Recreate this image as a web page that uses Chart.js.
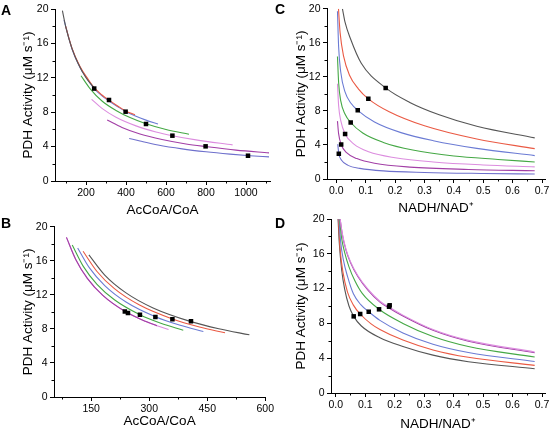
<!DOCTYPE html>
<html>
<head>
<meta charset="utf-8">
<script src="https://cdn.jsdelivr.net/npm/chart.js@4.4.1/dist/chart.umd.min.js"></script>
<style>
  html, body { margin: 0; padding: 0; background: #fff; }
  #fig { position: relative; width: 553px; height: 438px; overflow: hidden; font-family: "Liberation Sans", Arial, sans-serif; }
  #fig canvas { position: absolute; }
  .lbl { position: absolute; font-weight: bold; font-size: 14px; line-height: 14px; color: #000; }
</style>
</head>
<body>
<div id="fig">
  <canvas id="chartA" width="276" height="218" style="left:0;top:0"></canvas>
  <canvas id="chartC" width="277" height="218" style="left:276px;top:0"></canvas>
  <canvas id="chartB" width="276" height="220" style="left:0;top:218px"></canvas>
  <canvas id="chartD" width="277" height="230" style="left:276px;top:208px"></canvas>
  <div class="lbl" style="left:1px;top:3px">A</div>
  <div class="lbl" style="left:275px;top:2px">C</div>
  <div class="lbl" style="left:1px;top:216px">B</div>
  <div class="lbl" style="left:275px;top:216px">D</div>
</div>
<script>
// ---- panel A: activity vs AcCoA/CoA ----
const aGrey   = [[82,19.8],[100,17.8],[130,15.4],[160,13.7],[200,12.0],[245,10.7]];
const aRed    = [[98,18.0],[130,15.45],[170,13.3],[210,11.85],[241,10.85],[280,10.0],[315,9.4],[360,8.7],[398,8.15],[445,7.7]];
const aBlue   = [[90,18.7],[130,15.35],[170,13.2],[210,11.75],[241,10.75],[280,9.9],[315,9.3],[360,8.62],[398,8.08],[450,7.52],[500,7.08],[560,6.62]];
const aGreen  = [[175,12.24],[220,10.75],[280,9.3],[350,8.2],[420,7.37],[500,6.65],[600,5.98],[715,5.43]];
const aPink   = [[228,9.5],[280,8.44],[350,7.41],[450,6.41],[550,5.7],[632,5.27],[750,4.78],[933,4.2]];
const aPurple = [[306,7.09],[380,6.23],[470,5.47],[580,4.83],[700,4.31],[800,4.0],[950,3.59],[1115,3.27]];
const aIndigo = [[416,4.95],[470,4.65],[560,4.19],[680,3.74],[800,3.4],[920,3.13],[1020,2.94],[1115,2.8]];
const aPtX = [241, 315, 398, 500, 632, 798, 1010];
const aPtY = [10.75, 9.42, 8.06, 6.63, 5.27, 4.03, 2.94];

// ---- panel B ----
const bPink   = [[86,18.76],[110,16.17],[140,13.94],[180,11.94],[237,10.07],[290,8.89],[320,8.37],[350,7.92]];
const bPurple = [[86,18.76],[110,16.17],[140,13.94],[180,11.94],[237,10.07],[290,8.89],[320,8.37]];
const bGreen  = [[101,17.87],[130,15.32],[165,13.24],[210,11.43],[276,9.67],[330,8.67],[388,7.85]];
const bBlue   = [[115,17.52],[145,15.2],[185,13.09],[240,11.16],[316,9.43],[380,8.42],[440,7.69]];
const bRed    = [[129,17.13],[165,14.75],[210,12.73],[275,10.8],[360,9.17],[430,8.23],[496,7.54]];
const bGrey   = [[144,16.7],[185,14.33],[240,12.24],[310,10.47],[408,8.86],[480,8.02],[559,7.31]];
const bPtX = [237, 245, 276, 316, 360, 408];
const bPtY = [10.06, 9.86, 9.67, 9.40, 9.13, 8.90];

// ---- panel C: activity vs NADH/NAD+ ----
const cGrey   = [[0.021,20],[0.03,18.4],[0.047,16.6],[0.085,13.6],[0.168,10.7],[0.25,9.0],[0.35,7.55],[0.478,6.2],[0.675,4.83]];
const cRed    = [[0.0075,20],[0.013,17.2],[0.025,14.4],[0.045,12.2],[0.075,10.6],[0.109,9.42],[0.18,7.9],[0.3,6.25],[0.478,4.7],[0.675,3.57]];
const cBlue   = [[0.004,19.7],[0.008,15.5],[0.015,12.6],[0.03,10.2],[0.05,8.9],[0.073,8.07],[0.13,6.7],[0.22,5.45],[0.33,4.5],[0.478,3.6],[0.675,2.75]];
const cGreen  = [[0.004,14.4],[0.008,11.3],[0.015,9.2],[0.03,7.6],[0.049,6.64],[0.09,5.4],[0.16,4.3],[0.26,3.4],[0.4,2.7],[0.55,2.3],[0.675,2.0]];
const cPink   = [[0.004,11.2],[0.008,8.6],[0.015,6.9],[0.03,5.3],[0.06,4.1],[0.11,3.2],[0.2,2.5],[0.33,2.0],[0.5,1.65],[0.675,1.43]];
const cPurple = [[0.004,6.8],[0.008,5.3],[0.0166,4.06],[0.035,3.1],[0.07,2.4],[0.13,1.85],[0.25,1.4],[0.45,1.12],[0.675,0.97]];
const cIndigo = [[0.005,4.1],[0.0086,2.97],[0.018,2.2],[0.04,1.6],[0.08,1.25],[0.16,0.95],[0.3,0.77],[0.5,0.65],[0.675,0.58]];
const cPtX = [0.168, 0.109, 0.073, 0.049, 0.030, 0.0166, 0.0086];
const cPtY = [10.7, 9.42, 8.07, 6.64, 5.3, 4.06, 2.97];

// ---- panel D ----
const dGrey   = [[0.008,20],[0.012,17.3],[0.02,14.2],[0.03,12.0],[0.045,10.0],[0.061,8.81],[0.087,7.7],[0.15,6.35],[0.228,5.35],[0.33,4.35],[0.45,3.6],[0.675,2.79]];
const dRed    = [[0.009,20],[0.015,16.5],[0.025,13.8],[0.04,11.6],[0.06,10.1],[0.083,9.08],[0.12,7.95],[0.15,7.3],[0.228,6.08],[0.33,4.95],[0.45,4.1],[0.675,3.18]];
const dBlue   = [[0.011,20],[0.017,17.3],[0.026,15.3],[0.04,13.4],[0.06,11.4],[0.085,10.15],[0.112,9.34],[0.15,8.35],[0.228,6.9],[0.33,5.6],[0.45,4.65],[0.675,3.62]];
const dGreen  = [[0.013,20],[0.02,17.8],[0.03,16.2],[0.045,14.5],[0.065,12.9],[0.09,11.45],[0.147,9.62],[0.228,8.0],[0.33,6.5],[0.45,5.35],[0.675,4.13]];
const dPink   = [[0.015,20],[0.022,18.4],[0.035,16.5],[0.05,15.1],[0.075,13.5],[0.11,11.9],[0.15,10.55],[0.182,9.85],[0.228,8.95],[0.33,7.3],[0.45,6.05],[0.675,4.72]];
const dPurple = [[0.015,20],[0.022,18.3],[0.035,16.4],[0.05,15.0],[0.075,13.4],[0.11,11.8],[0.15,10.45],[0.182,9.75],[0.228,8.85],[0.33,7.2],[0.45,5.95],[0.675,4.62]];
const dPtX = [0.061, 0.083, 0.112, 0.147, 0.181, 0.183];
const dPtY = [8.81, 9.08, 9.34, 9.62, 9.92, 10.08];

// ---- ticks ----
const yMajor = [0, 4, 8, 12, 16, 20];
const yMinor = [2, 6, 10, 14, 18];
const aMajor = [200, 400, 600, 800, 1000];
const aMinor = [100, 300, 500, 700, 900, 1100];
const bMajor = [150, 300, 450, 600];
const bMinor = [75, 225, 375, 525];
const nMajor = [0, 0.1, 0.2, 0.3, 0.4, 0.5, 0.6, 0.7];
const nMinor = [0.05, 0.15, 0.25, 0.35, 0.45, 0.55, 0.65];

const COL = {
  grey: '#555555', red: '#ea5a44', blue: '#6b7bd4', green: '#45a845',
  pink: '#dc8ddf', purple: '#a23fa6', indigo: '#6e70cc'
};
const FONT = '"Liberation Sans", Arial, sans-serif';
const Y_TITLE = 'PDH Activity (\u03bcM s\u207b\u00b9)';

// small outward minor ticks at the given values
const minorTicks = {
  id: 'minorTicks',
  afterDraw(chart, args, opts) {
    const { ctx, scales: { x, y } } = chart;
    ctx.save();
    ctx.strokeStyle = '#000';
    ctx.lineWidth = 1;
    ctx.beginPath();
    (opts.x || []).forEach(v => {
      if (v < x.min || v > x.max) return;
      const px = Math.round(x.getPixelForValue(v)) + 0.5;
      ctx.moveTo(px, x.top);
      ctx.lineTo(px, x.top + 2.5);
    });
    (opts.y || []).forEach(v => {
      const py = Math.round(y.getPixelForValue(v)) + 0.5;
      ctx.moveTo(y.right, py);
      ctx.lineTo(y.right - 2.5, py);
    });
    ctx.stroke();
    ctx.restore();
  }
};

function curve(pts, color) {
  return {
    data: pts.map(([x, y]) => ({ x, y })),
    borderColor: color, borderWidth: 1.1,
    pointRadius: 0, cubicInterpolationMode: 'monotone', fill: false
  };
}

function marks(xs, ys) {
  return {
    data: xs.map((x, i) => ({ x, y: ys[i] })),
    showLine: false, pointStyle: 'rect', pointRadius: 3.2,
    pointBackgroundColor: '#000', pointBorderWidth: 0
  };
}

function axisStyle() {
  return {
    grid: { display: true, drawOnChartArea: false, drawTicks: true, tickLength: 4, tickColor: '#000', color: '#000' },
    border: { display: true, color: '#000', width: 1 }
  };
}

function panel(id, p) {
  new Chart(document.getElementById(id), {
    type: 'line',
    data: { datasets: p.datasets },
    options: {
      responsive: false, animation: false, events: [],
      layout: { padding: { left: 0, top: p.top, right: p.right, bottom: 0 } },
      plugins: {
        legend: { display: false }, tooltip: { enabled: false },
        minorTicks: { x: p.xMinor, y: yMinor }
      },
      scales: {
        x: {
          type: 'linear', min: p.xMin, max: p.xMax,
          afterBuildTicks: s => { s.ticks = p.xMajor.map(v => ({ value: v })); },
          afterFit: s => { s.height = p.xH; },
          ticks: { color: '#000', padding: 2, maxRotation: 0, font: { family: FONT, size: 10.5 }, callback: p.fmt },
          title: { display: true, text: p.xTitle, color: '#000', font: { family: FONT, size: 13.5, lineHeight: 1 }, padding: { top: 0, bottom: p.xTitlePad } },
          ...axisStyle()
        },
        y: {
          type: 'linear', min: 0, max: 20,
          afterBuildTicks: s => { s.ticks = yMajor.map(v => ({ value: v })); },
          afterFit: s => { s.width = p.yW; },
          ticks: { color: '#000', padding: 2.5, font: { family: FONT, size: 10.5 } },
          title: { display: true, text: Y_TITLE, color: '#000', font: { family: FONT, size: 13.5, lineHeight: 1 }, padding: { top: p.yTitlePad, bottom: 0 } },
          ...axisStyle()
        }
      }
    },
    plugins: [minorTicks]
  });
}

const intFmt = v => String(v);
const decFmt = v => v.toFixed(1);

panel('chartA', {
  datasets: [
    marks(aPtX, aPtY),
    curve(aGrey, COL.grey), curve(aRed, COL.red), curve(aBlue, COL.blue),
    curve(aGreen, COL.green), curve(aPink, COL.pink), curve(aPurple, COL.purple), curve(aIndigo, COL.indigo)
  ],
  top: 9, right: 6, yW: 55, xH: 37, xMin: 45, xMax: 1120,
  xMajor: aMajor, xMinor: aMinor, fmt: intFmt,
  xTitle: 'AcCoA/CoA', xTitlePad: 1.25, yTitlePad: 21.25
});

panel('chartC', {
  datasets: [
    marks(cPtX, cPtY),
    curve(cGrey, COL.grey), curve(cRed, COL.red), curve(cBlue, COL.blue),
    curve(cGreen, COL.green), curve(cPink, COL.pink), curve(cPurple, COL.purple), curve(cIndigo, COL.indigo)
  ],
  top: 6, right: 8, yW: 51, xH: 39, xMin: -0.0316, xMax: 0.710,
  xMajor: nMajor, xMinor: nMinor, fmt: decFmt,
  xTitle: 'NADH/NAD\u207a', xTitlePad: 3.25, yTitlePad: 18.55
});

panel('chartB', {
  datasets: [
    marks(bPtX, bPtY),
    curve(bPurple, COL.purple), curve(bPink, COL.pink), curve(bGreen, COL.green),
    curve(bBlue, COL.blue), curve(bRed, COL.red), curve(bGrey, COL.grey)
  ],
  top: 7, right: 8, yW: 54, xH: 41, xMin: 53.8, xMax: 600,
  xMajor: bMajor, xMinor: bMinor, fmt: intFmt,
  xTitle: 'AcCoA/CoA', xTitlePad: 10.25, yTitlePad: 21.25
});

panel('chartD', {
  datasets: [
    marks(dPtX, dPtY),
    curve(dPink, COL.pink), curve(dPurple, COL.purple), curve(dGreen, COL.green),
    curve(dBlue, COL.blue), curve(dRed, COL.red), curve(dGrey, COL.grey)
  ],
  top: 11, right: 8, yW: 55, xH: 45, xMin: -0.016, xMax: 0.71,
  xMajor: nMajor, xMinor: nMinor, fmt: decFmt,
  xTitle: 'NADH/NAD\u207a', xTitlePad: 6.55, yTitlePad: 18.55
});
</script>
</body>
</html>
